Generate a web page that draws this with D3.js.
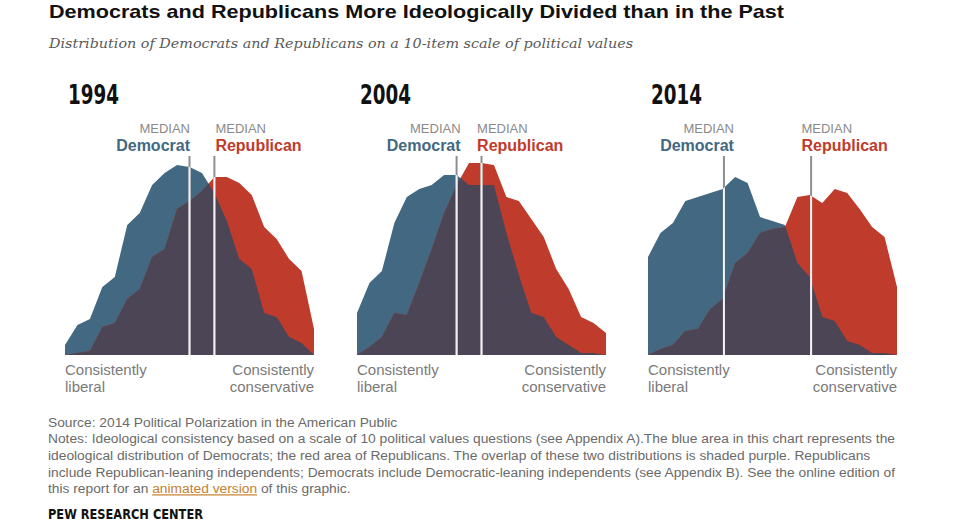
<!DOCTYPE html>
<html>
<head>
<meta charset="utf-8">
<script src="https://cdn.jsdelivr.net/npm/d3@7"></script>
<style>
  html, body { margin: 0; padding: 0; background: #fff; }
  svg { display: block; }
</style>
</head>
<body>
<div id="chart"></div>
<script>
// ---------------- DATA ----------------
const years = ["1994", "2004", "2014"];
// 10-item ideological consistency scale (-10 consistently liberal ... +10 consistently conservative)
const scalePoints = [-10,-9,-8,-7,-6,-5,-4,-3,-2,-1,0,1,2,3,4,5,6,7,8,9,10];
// share of each party at each scale point
const dem1994 = [0.5,1.5,1.8,3.4,3.9,6.5,7.1,8.5,9.1,9.5,9.4,9.1,8.1,6.7,4.8,4.3,2.1,1.9,0.9,0.6,0];
const rep1994 = [0,0.1,0.2,1.4,1.6,2.8,3.3,4.9,5.3,7.3,7.7,8.2,8.9,8.9,8.6,8.0,6.4,5.8,4.8,4.2,1.3];
const dem2004 = [2.1,3.6,4.2,6.6,7.9,8.3,8.5,9.0,9.0,8.5,8.5,8.5,6.1,4.0,2.1,1.9,0.9,0.5,0.1,0.1,0];
const rep2004 = [0,0.4,0.9,2.1,2.0,3.6,5.3,7.1,8.5,9.6,9.6,9.5,7.9,7.7,6.8,5.9,4.3,3.3,1.9,1.6,1.1];
const dem2014 = [4.9,6.1,6.6,7.7,7.9,8.1,8.3,8.9,8.6,6.9,6.7,6.5,4.6,3.9,1.9,1.7,0.7,0.5,0.1,0.1,0];
const rep2014 = [0,0.3,0.5,1.2,1.3,2.3,2.8,4.6,5.1,6.1,6.3,6.4,7.9,8.0,7.6,8.3,8.1,7.3,6.4,5.9,3.4];
const demMedians = [0, -2, -3.9];
const repMedians = [2, 0, 3.1];
const medianWord = "MEDIAN";
const partyNames = ["Democrat", "Republican"];
const axisEnds = [["Consistently", "liberal"], ["Consistently", "conservative"]];
const titleText = "Democrats and Republicans More Ideologically Divided than in the Past";
const subtitleText = "Distribution of Democrats and Republicans on a 10-item scale of political values";
const noteLines = [
  "Source: 2014 Political Polarization in the American Public",
  "Notes: Ideological consistency based on a scale of 10 political values questions (see Appendix A).The blue area in this chart represents the",
  "ideological distribution of Democrats; the red area of Republicans. The overlap of these two distributions is shaded purple. Republicans",
  "include Republican-leaning independents; Democrats include Democratic-leaning independents (see Appendix B). See the online edition of"
];
const lastLine = ["this report for an ", "animated version", " of this graphic."];
const creditText = "PEW RESEARCH CENTER";

// ---------------- LAYOUT ----------------
const W = 960, H = 530;
const demSeries = [dem1994, dem2004, dem2014];
const repSeries = [rep1994, rep2004, rep2014];
const panelLefts = [65, 357, 648];
const panelWidth = 249;
const baseY = 355, topY = 155;
const lineTop = 156;
const demLabelShift = [0.5, 4, 10];
const repLabelShift = [1, -4.4, -9.6];

const BLUE = "#436881", RED = "#bf3b2b", PURPLE = "#4b4555";
const SANS = "'Liberation Sans', Arial, Helvetica, sans-serif";
const NARROW = "'Liberation Sans Narrow', 'Arial Narrow', 'DejaVu Sans Condensed', sans-serif";

const svg = d3.select("#chart").append("svg")
  .attr("width", W).attr("height", H)
  .attr("viewBox", `0 0 ${W} ${H}`);
svg.append("rect").attr("width", W).attr("height", H).attr("fill", "#fff");

function fitWidth(sel, target) {
  const n = sel.node().getComputedTextLength();
  if (Math.abs(n - target) > 1) sel.attr("textLength", target).attr("lengthAdjust", "spacingAndGlyphs");
}

// Title and subtitle
const title = svg.append("text")
  .attr("x", 49).attr("y", 18)
  .attr("font-family", SANS).attr("font-weight", "bold").attr("font-size", 19)
  .attr("fill", "#111").text(titleText);
fitWidth(title, 735);

const sub = svg.append("text")
  .attr("x", 49).attr("y", 48)
  .attr("font-family", "'DejaVu Serif', Georgia, serif").attr("font-style", "italic")
  .attr("font-size", 13.5).attr("fill", "#5a5a5a").text(subtitleText);
fitWidth(sub, 584);

const y = d3.scaleLinear().domain([0, 10]).range([baseY, topY]);

years.forEach((yr, k) => {
  const left = panelLefts[k];
  const x = d3.scaleLinear().domain([-10, 10]).range([left, left + panelWidth]);
  const dem = demSeries[k], rep = repSeries[k];
  const g = svg.append("g");

  const area = d3.area()
    .x((d, i) => x(scalePoints[i]))
    .y0(baseY)
    .y1(d => y(d));

  const demPath = area(dem), repPath = area(rep);

  // clip paths
  const defs = svg.append("defs");
  defs.append("clipPath").attr("id", "demclip" + k)
    .append("path").attr("d", demPath);
  const uni = defs.append("clipPath").attr("id", "unionclip" + k);
  uni.append("path").attr("d", demPath);
  uni.append("path").attr("d", repPath);

  g.append("path").attr("d", demPath).attr("fill", BLUE);
  g.append("path").attr("d", repPath).attr("fill", RED);
  // overlap shaded purple
  g.append("path").attr("d", repPath).attr("fill", PURPLE)
    .attr("clip-path", `url(#demclip${k})`);

  // median lines
  [demMedians[k], repMedians[k]].forEach(m => {
    g.append("line")
      .attr("x1", x(m)).attr("x2", x(m))
      .attr("y1", lineTop).attr("y2", baseY)
      .attr("stroke", "#8f8f8f").attr("stroke-width", 2);
    g.append("line")
      .attr("x1", x(m)).attr("x2", x(m))
      .attr("y1", lineTop).attr("y2", baseY)
      .attr("stroke", "#f2f2f2").attr("stroke-width", 2)
      .attr("clip-path", `url(#unionclip${k})`);
  });

  // year label
  const yl = g.append("text")
    .attr("x", left + 3).attr("y", 104)
    .attr("font-family", NARROW).attr("font-weight", "bold")
    .attr("font-size", 27).attr("fill", "#111").text(yr);
  fitWidth(yl, 51);

  // median labels
  const dx = x(demMedians[k]) + demLabelShift[k];
  g.append("text").attr("x", dx).attr("y", 133).attr("text-anchor", "end")
    .attr("font-family", SANS).attr("font-size", 13).attr("fill", "#8a8a8a").text(medianWord);
  g.append("text").attr("x", dx).attr("y", 151).attr("text-anchor", "end")
    .attr("font-family", SANS).attr("font-weight", "bold").attr("font-size", 16)
    .attr("fill", BLUE).text(partyNames[0]);

  const rx = x(repMedians[k]) + repLabelShift[k];
  g.append("text").attr("x", rx).attr("y", 133).attr("text-anchor", "start")
    .attr("font-family", SANS).attr("font-size", 13).attr("fill", "#8a8a8a").text(medianWord);
  g.append("text").attr("x", rx).attr("y", 151).attr("text-anchor", "start")
    .attr("font-family", SANS).attr("font-weight", "bold").attr("font-size", 16)
    .attr("fill", RED).text(partyNames[1]);

  // axis end labels
  const lt = g.append("text").attr("font-family", SANS).attr("font-size", 15).attr("fill", "#7a7a7a");
  lt.append("tspan").attr("x", x(-10)).attr("y", 375).text(axisEnds[0][0]);
  lt.append("tspan").attr("x", x(-10)).attr("y", 392).text(axisEnds[0][1]);
  const rt = g.append("text").attr("font-family", SANS).attr("font-size", 15).attr("fill", "#7a7a7a")
    .attr("text-anchor", "end");
  rt.append("tspan").attr("x", x(10)).attr("y", 375).text(axisEnds[1][0]);
  rt.append("tspan").attr("x", x(10)).attr("y", 392).text(axisEnds[1][1]);
});

// Notes
const noteY = [426.5, 443.2, 459.9, 476.6, 493.3];
const notesG = svg.append("g").attr("font-family", SANS).attr("font-size", 12).attr("fill", "#6a6a6a");
const noteEls = noteLines.map((t, i) => notesG.append("text").attr("x", 48).attr("y", noteY[i]).text(t));
const last = notesG.append("text").attr("x", 48).attr("y", noteY[4]);
last.append("tspan").text(lastLine[0]);
last.append("tspan").attr("fill", "#c4802f").attr("text-decoration", "underline").text(lastLine[1]);
last.append("tspan").text(lastLine[2]);
// common horizontal scale factor from the longest line
const factor = 847 / noteEls[1].node().getComputedTextLength();
noteEls.concat([last]).forEach(el => {
  const n = el.node().getComputedTextLength();
  el.attr("textLength", n * factor).attr("lengthAdjust", "spacingAndGlyphs");
});

const credit = svg.append("text").attr("x", 48).attr("y", 518.5)
  .attr("font-family", NARROW).attr("font-weight", "bold").attr("font-size", 14.5)
  .attr("fill", "#111").text(creditText);
fitWidth(credit, 155);
</script>
</body>
</html>
